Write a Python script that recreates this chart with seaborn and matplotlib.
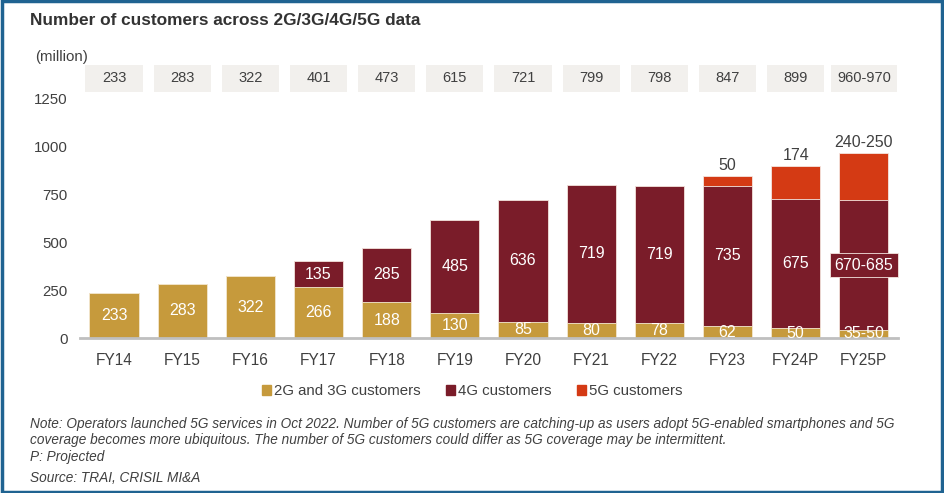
import numpy as np
import pandas as pd
import seaborn as sns
import matplotlib.pyplot as plt
from matplotlib.patches import Patch, Rectangle
import matplotlib.transforms as mtransforms

# Data (million customers)
years = ['FY14', 'FY15', 'FY16', 'FY17', 'FY18', 'FY19', 'FY20', 'FY21', 'FY22', 'FY23', 'FY24P', 'FY25P']
g23 = [233, 283, 322, 266, 188, 130, 85, 80, 78, 62, 50, 42.5]
g4 = [0, 0, 0, 135, 285, 485, 636, 719, 719, 735, 675, 677.5]
g5 = [0, 0, 0, 0, 0, 0, 0, 0, 0, 50, 174, 245]
g23_labels = ['233', '283', '322', '266', '188', '130', '85', '80', '78', '62', '50', '35-50']
g4_labels = ['', '', '', '135', '285', '485', '636', '719', '719', '735', '675', '670-685']
g5_labels = ['', '', '', '', '', '', '', '', '', '50', '174', '240-250']
total_labels = ['233', '283', '322', '401', '473', '615', '721', '799', '798', '847', '899', '960-970']

c_gold = '#C69A3C'
c_maroon = '#7A1C29'
c_red = '#D43A14'
c_text = '#404040'

df = pd.DataFrame({'year': years, 'g23': g23, 'g4': g4, 'g5': g5})
df['g234'] = df['g23'] + df['g4']
df['total'] = df['g234'] + df['g5']

sns.set_style('white')
plt.rcParams['font.family'] = ['Liberation Sans', 'DejaVu Sans']

fig = plt.figure(figsize=(9.44, 4.93), dpi=100)
ax = fig.add_axes([0.0847, 0.3144, 0.8665, 0.4848])

# stacked bars drawn as overlaid cumulative totals
bar_w = 0.72
sns.barplot(data=df, x='year', y='total', color=c_red, saturation=1, width=bar_w,
            edgecolor='#F4E6E0', linewidth=0.6, ax=ax)
sns.barplot(data=df, x='year', y='g234', color=c_maroon, saturation=1, width=bar_w,
            edgecolor='#F4E6E0', linewidth=0.6, ax=ax)
sns.barplot(data=df, x='year', y='g23', color=c_gold, saturation=1, width=bar_w,
            edgecolor='#F6EBD3', linewidth=0.6, ax=ax)

ax.set_xlim(-0.5, 11.5)
ax.set_ylim(0, 1250)
ax.set_yticks([0, 250, 500, 750, 1000, 1250])
ax.set_xlabel('')
ax.set_ylabel('')
ax.tick_params(axis='y', length=0, pad=9, labelsize=10.8, labelcolor=c_text)
ax.tick_params(axis='x', length=0, pad=11, labelsize=11.2, labelcolor=c_text)
for s in ['left', 'right', 'top']:
    ax.spines[s].set_visible(False)
ax.spines['bottom'].set_color('#BFBFBF')
ax.spines['bottom'].set_linewidth(2)

# labels inside the segments
for i in range(len(years)):
    ax.text(i, df['g23'][i] / 2, g23_labels[i], ha='center', va='center',
            color='white', fontsize=11.5)
    if g4_labels[i]:
        y4 = df['g23'][i] + df['g4'][i] / 2
        if i == len(years) - 1:
            ax.text(i, y4, g4_labels[i], ha='center', va='center', color='white',
                    fontsize=11.5,
                    bbox=dict(boxstyle='square,pad=0.3', fc=c_maroon, ec='#F4E6E0', lw=0.6))
        else:
            ax.text(i, y4, g4_labels[i], ha='center', va='center', color='white',
                    fontsize=11.5)
    if g5_labels[i]:
        ax.text(i, df['total'][i] + 18, g5_labels[i], ha='center', va='bottom',
                color=c_text, fontsize=11.5)

# total boxes above the plot
trans = mtransforms.blended_transform_factory(ax.transData, ax.transAxes)
for i, t in enumerate(total_labels):
    bw = 0.97 if i == len(years) - 1 else 0.84
    ax.add_patch(Rectangle((i - bw / 2, 1.031), bw, 0.113, transform=trans,
                           facecolor='#F2F0ED', edgecolor='none', clip_on=False))
    ax.text(i, 1.087, t, transform=trans, ha='center', va='center',
            color=c_text, fontsize=10.5)

fig.text(0.032, 0.958, 'Number of customers across 2G/3G/4G/5G data',
         fontsize=12.4, fontweight='bold', color='#333333', va='center', ha='left')
fig.text(0.037, 0.884, '(million)', fontsize=10.8, color=c_text, va='center', ha='left')

handles = [Patch(color=c_gold, label='2G and 3G customers'),
           Patch(color=c_maroon, label='4G customers'),
           Patch(color=c_red, label='5G customers')]
fig.legend(handles=handles, loc='center', bbox_to_anchor=(0.5, 1 - 391 / 493), ncol=3,
           frameon=False, fontsize=10.8, handlelength=0.6, handleheight=0.7,
           handletextpad=0.2, columnspacing=1.7, labelcolor=c_text)

note = ('Note: Operators launched 5G services in Oct 2022. Number of 5G customers are catching-up as users adopt 5G-enabled smartphones and 5G\n'
        'coverage becomes more ubiquitous. The number of 5G customers could differ as 5G coverage may be intermittent.')
fig.text(0.032, 1 - 432 / 493, note, fontsize=9.85, style='italic', color=c_text,
         va='center', ha='left', linespacing=1.18)
fig.text(0.032, 1 - 457 / 493, 'P: Projected', fontsize=9.85, style='italic', color=c_text,
         va='center', ha='left')
fig.text(0.032, 1 - 478 / 493, 'Source: TRAI, CRISIL MI&A', fontsize=9.85, style='italic',
         color=c_text, va='center', ha='left')

# outer frame
fig.patches.append(Rectangle((0.002, 0.003), 0.996, 0.994, transform=fig.transFigure,
                             fill=False, edgecolor='#1F6391', linewidth=2.5))

fig.savefig('out.png', dpi=100)
